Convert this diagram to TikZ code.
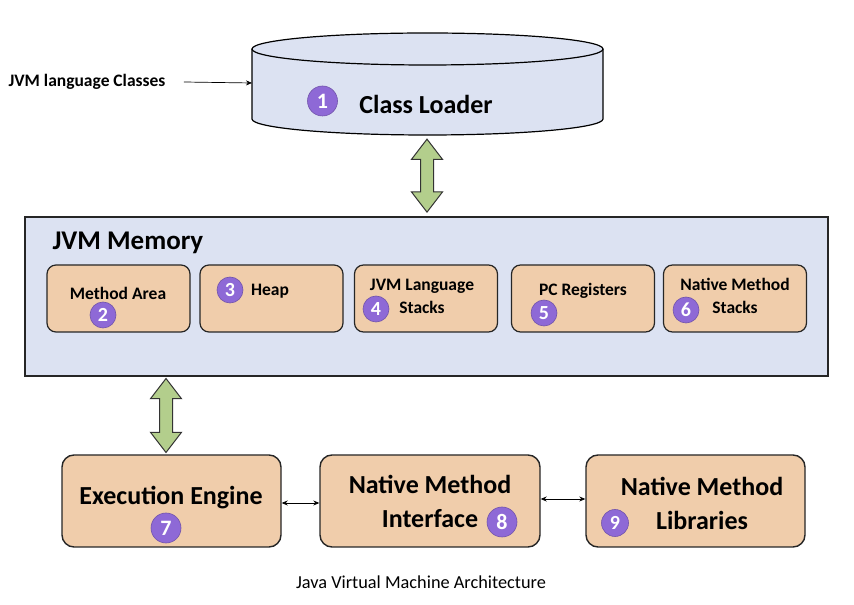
\documentclass[tikz,border=0pt]{standalone}
\usepackage{fontspec}
\setmainfont{Carlito}
\usetikzlibrary{shapes.arrows,arrows.meta,calc}
\definecolor{peach}{HTML}{F0CDAB}
\definecolor{lav}{HTML}{DCE2F2}
\definecolor{leaf}{HTML}{B3CE8C}
\definecolor{badge}{HTML}{8E69D6}

\begin{document}
\begin{tikzpicture}[x=1pt,y=1pt,
  part/.style={draw=black!85,line width=1.2pt,fill=peach,rounded corners=9pt,minimum width=143pt,minimum height=67pt},
  unit/.style={draw=black!85,line width=1.4pt,fill=peach,rounded corners=12pt,minimum width=219pt,minimum height=92pt},
  small/.style={align=center,font=\fontsize{17.5}{23}\selectfont\bfseries},
  big/.style={align=center,font=\fontsize{26}{34}\selectfont\bfseries},
  num/.style={circle,fill=badge,draw=badge!80!black,line width=0.6pt,text=white,inner sep=0pt,minimum size=#1,font=\fontsize{20}{20}\selectfont\bfseries},
  num/.default=26pt,
  flow/.style={double arrow,draw=black!80,fill=leaf,line width=1pt,rotate=90,inner xsep=0pt,inner ysep=6pt,double arrow head extend=9pt,double arrow tip angle=75}]
  \useasboundingbox (0,0) rectangle (854,605);
  % class loader drum
  \draw[fill=lav,line width=1.2pt] (252,556) -- (252,486) arc[start angle=180,end angle=360,x radius=175.5pt,y radius=16pt] -- (603,556);
  \draw[fill=lav,line width=1.2pt] (427.5,556) ellipse[x radius=175.5pt,y radius=16pt];
  \coordinate (clw) at (252,522);
  \coordinate (clbot) at (427.5,470);
  \node (cl) at (426,501) [big] {Class Loader};
  \node (n1) at (322.5,504) [num=30pt,font=\fontsize{22}{22}\selectfont\bfseries] {1};
  \node (src) at (87,523) [font=\fontsize{17.5}{20}\selectfont\bfseries] {JVM language Classes};
  \draw[-{Stealth[length=6pt,width=5pt]},line width=0.7pt] ([xshift=15pt]src.east) -- (clw);
  % memory
  \node (mem) at (426.5,308.5) [draw=black!85,line width=1.4pt,fill=lav,minimum width=803pt,minimum height=159pt] {};
  \node (memt) at (49,362) [anchor=west,font=\fontsize{27}{30}\selectfont\bfseries] {JVM Memory};
  \node (ma) at (118.5,306.5) [part] {};
  \node (hp) at (271.5,306.5) [part] {};
  \node (js) at (426,306.5) [part] {};
  \node (pc) at (583,306.5) [part] {};
  \node (ns) at (735,306.5) [part] {};
  \node (mat) at (118,312) [small] {Method Area};
  \node (hpt) at (270,314) [small] {Heap};
  \node (jst) at (422,308.5) [small] {JVM Language\\Stacks};
  \node (pct) at (583,314) [small] {PC Registers};
  \node (nst) at (735,309.5) [small] {Native Method\\Stacks};
  \node (n2) at (103,290) [num] {2};
  \node (n3) at (230,315) [num] {3};
  \node (n4) at (376,296) [num] {4};
  \node (n5) at (544,292) [num] {5};
  \node (n6) at (686,295) [num] {6};
  % engine and native side
  \node (ee) at (171.5,104) [unit] {};
  \node (nmi) at (430,104) [unit,minimum width=220pt] {};
  \node (nml) at (695.5,104) [unit] {};
  \node (eet) at (171,107) [big] {Execution Engine};
  \node (nmit) at (430,104) [big] {Native Method\\Interface};
  \node (nmlt) at (702,102) [big] {Native Method\\Libraries};
  \node (n7) at (166,77) [num=30pt,font=\fontsize{22}{22}\selectfont\bfseries] {7};
  \node (n8) at (502,83) [num=30pt,font=\fontsize{22}{22}\selectfont\bfseries] {8};
  \node (n9) at (615,82) [num=27pt] {9};
  \draw[{Stealth[length=6pt,width=5pt]}-{Stealth[length=6pt,width=5pt]},line width=0.7pt] (ee.east |- 0,102) -- (nmi.west |- 0,102);
  \draw[{Stealth[length=6pt,width=5pt]}-{Stealth[length=6pt,width=5pt]},line width=0.7pt] (nmi.east |- 0,106) -- (nml.west |- 0,106);
  % big arrows
  \node (up) at ($(clbot)!0.5!(mem.north)$) [flow,minimum height=73pt] {};
  \node (dn) at ($(166,229)!0.5!(166,150)$) [flow,minimum height=74pt] {};
  \node (cap) at (421,23) [font=\fontsize{18.3}{20}\selectfont] {Java Virtual Machine Architecture};
\end{tikzpicture}
\end{document}
